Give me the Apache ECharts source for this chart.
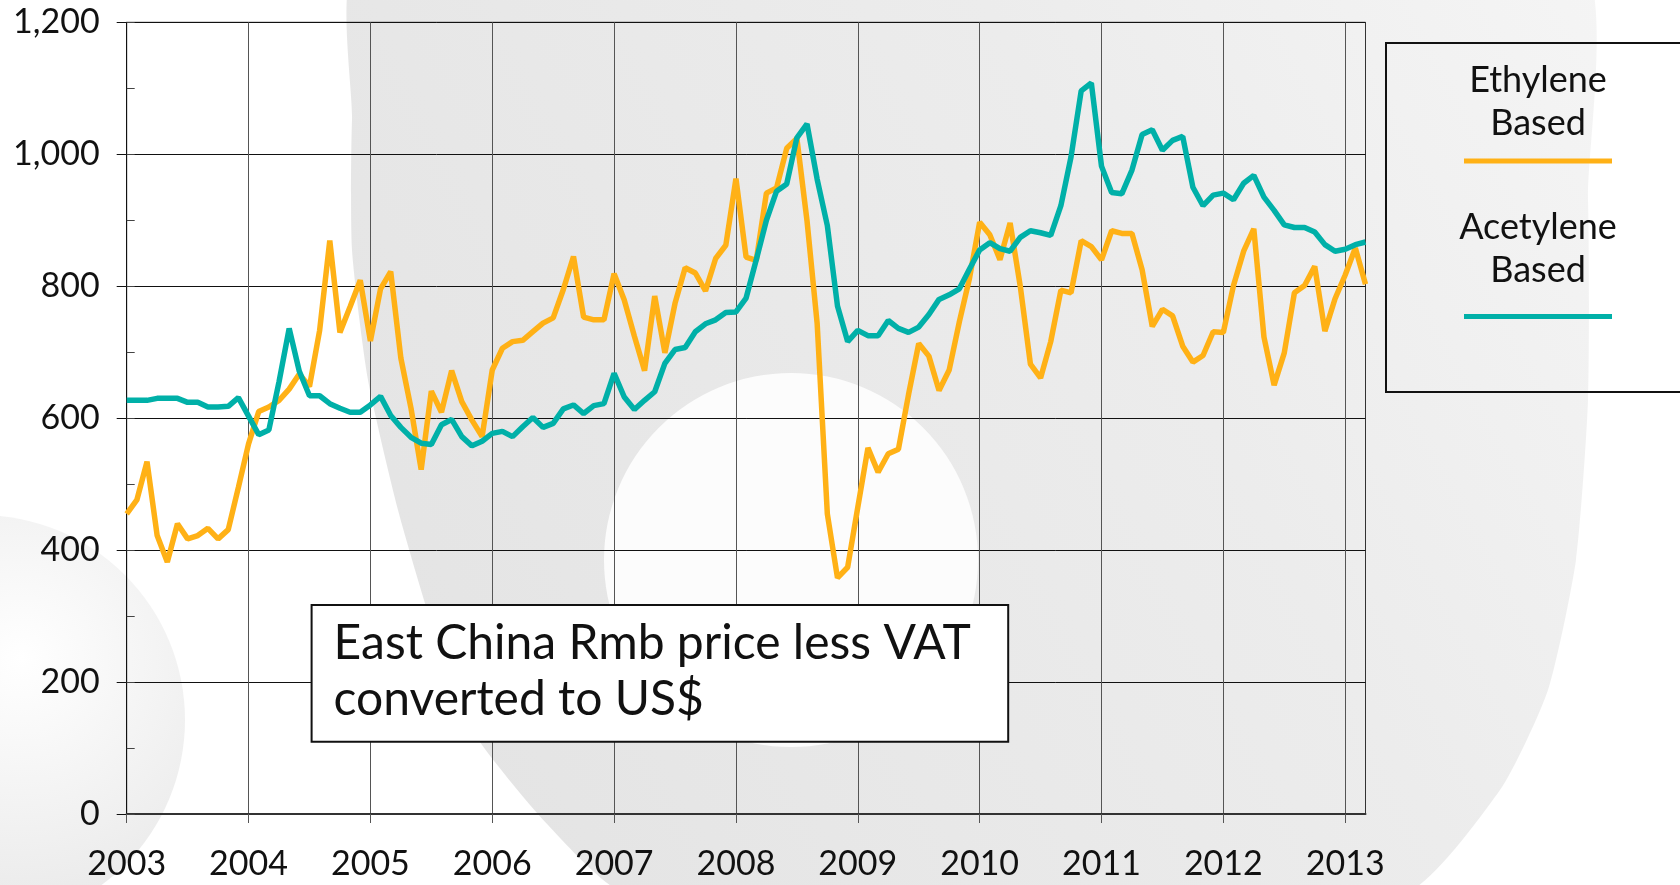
<!DOCTYPE html>
<html>
<head>
<meta charset="utf-8">
<script src="https://cdn.jsdelivr.net/npm/echarts@6/dist/echarts.min.js"></script>
<style>
  html, body { margin: 0; padding: 0; background: #fff; }
  #chart { width: 1680px; height: 885px; }
</style>
</head>
<body>
<div id="chart"></div>
<script>
// monthly values, Jan 2003 .. Mar 2013 (US$/t)
var ethylene = [455,476,534,422,382,440,417,422,433,417,
  431,495,561,610,617,627,644,667,648,733,
  869,730,769,809,717,796,822,691,615,522,
  641,609,672,625,597,572,673,706,716,718,
  731,744,752,795,845,753,749,749,819,779,
  724,672,785,699,774,828,820,793,842,862,
  963,844,839,941,949,1009,1024,899,743,455,
  358,374,465,555,518,546,553,636,713,694,
  642,673,746,812,897,878,840,896,800,682,
  661,716,794,790,869,860,840,884,880,880,
  825,739,765,755,709,685,695,731,730,801,
  853,887,723,650,699,790,801,830,732,781,
  817,858,803];

var acetylene = [627,627,627,630,630,630,624,624,617,617,
  618,631,603,575,582,655,736,671,634,634,
  622,615,609,609,620,633,604,586,571,562,
  560,590,598,572,558,565,577,580,572,587,
  601,586,592,614,620,607,619,622,668,632,
  613,627,640,683,704,707,731,743,749,760,
  761,782,840,900,944,955,1025,1046,962,892,
  770,716,733,725,725,748,736,730,738,757,
  780,787,796,826,855,866,857,853,874,884,
  881,877,922,996,1096,1108,982,942,940,976,
  1030,1037,1006,1021,1027,950,922,938,941,931,
  956,968,935,915,893,889,889,882,863,853,
  856,863,867];

var yearLabels = ['2003','2004','2005','2006','2007','2008','2009','2010','2011','2012','2013'];
var seriesNames = ['Ethylene Based', 'Acetylene Based'];
var colors = ['#FFB116', '#00B0A8'];

var months = [];
for (var i = 0; i < ethylene.length; i++) {
  var yr = 2003 + Math.floor(i / 12);
  var mo = (i % 12) + 1;
  months.push(yr + '-' + (mo < 10 ? '0' + mo : mo));
}

function isYearStart(index) { return index % 12 === 0; }

var FONT = 'Lato';
var chart = echarts.init(document.getElementById('chart'));

// faint logo watermark behind the plot
var watermark = [
  {
    type: 'polygon', z: -10, silent: true,
    shape: {
      smooth: 0.2,
      points: [[362,-40],[352,120],[352,250],[368,380],[398,510],[432,625],[472,730],[548,825],[630,895],
               [1400,895],[1500,790],[1548,690],[1576,560],[1588,400],[1588,200],[1575,-40]]
    },
    style: {
      fill: new echarts.graphic.LinearGradient(0, 0.7, 1, 0, [
        { offset: 0, color: '#e4e4e4' },
        { offset: 0.6, color: '#ececec' },
        { offset: 1, color: '#f5f5f5' }
      ])
    }
  },
  {
    type: 'circle', z: -9, silent: true,
    shape: { cx: 791, cy: 560, r: 187 },
    style: { fill: '#fcfcfc' }
  },
  {
    type: 'circle', z: -9, silent: true,
    shape: { cx: -20, cy: 720, r: 205 },
    style: {
      fill: new echarts.graphic.RadialGradient(0.6, 0.35, 0.8, [
        { offset: 0, color: '#ffffff' },
        { offset: 1, color: '#e4e4e4' }
      ])
    }
  }
];

var option = {
  backgroundColor: '#fff',
  animation: false,
  grid: {
    left: 126.7, right: 314.5, top: 22.3, bottom: 71,
    show: true, borderColor: '#333', borderWidth: 1
  },
  xAxis: {
    type: 'category',
    boundaryGap: false,
    data: months,
    axisLine: { lineStyle: { color: '#333', width: 2 } },
    axisTick: { interval: isYearStart, length: 9, lineStyle: { color: '#555' } },
    axisLabel: {
      interval: isYearStart,
      margin: 33,
      fontFamily: FONT, fontSize: 34, color: '#111',
      formatter: function (v, idx) { return yearLabels[Math.floor(idx / 12)]; }
    },
    splitLine: { show: true, interval: isYearStart, lineStyle: { color: '#555', width: 1 } }
  },
  yAxis: [
    {
      type: 'value', min: 0, max: 1200, interval: 200,
      axisLine: { show: true, lineStyle: { color: '#111', width: 1 } },
      axisTick: { show: true, length: 10, lineStyle: { color: '#111' } },
      axisLabel: {
        margin: 27, fontFamily: FONT, fontSize: 34, color: '#111',
        formatter: function (v) { return v.toLocaleString('en-US'); }
      },
      splitLine: { show: true, lineStyle: { color: '#111', width: 1 } }
    },
    {
      type: 'value', min: 0, max: 1200, interval: 100, position: 'left',
      axisLine: { show: false },
      axisTick: { show: true, inside: true, length: 8, lineStyle: { color: '#444' } },
      axisLabel: { show: false },
      splitLine: { show: false }
    }
  ],
  legend: {
    orient: 'vertical',
    left: 1386, top: 43,
    padding: [19, 80, 73, 47],
    itemGap: 46,
    itemWidth: 0,
    icon: 'none',
    selectedMode: false,
    borderColor: '#111', borderWidth: 2,
    data: seriesNames,
    formatter: function (name) {
      var p = name.split(' ');
      var key = name === seriesNames[0] ? 'l1' : 'l2';
      return '{t|' + p[0] + '}\n{t|' + p[1] + '}\n{' + key + '|\u00a0}';
    },
    textStyle: {
      rich: {
        t: { fontFamily: FONT, fontSize: 36, lineHeight: 43, width: 200, align: 'center', color: '#111' },
        l1: { width: 148, height: 5, lineHeight: 33, fontSize: 2, align: 'center', backgroundColor: colors[0] },
        l2: { width: 148, height: 5, lineHeight: 49, fontSize: 2, align: 'center', backgroundColor: colors[1] }
      }
    }
  },
  graphic: watermark.concat([
    {
      type: 'group', z: 100,
      children: [
        {
          type: 'rect', z: 100,
          shape: { x: 311.6, y: 605, width: 696.6, height: 136.7 },
          style: { fill: '#fff', stroke: '#111', lineWidth: 2 }
        },
        {
          type: 'text', z: 101,
          x: 333.6, y: 615.5,
          style: {
            text: 'East China Rmb price less VAT\nconverted to US$',
            font: '48px Lato', lineHeight: 56, fill: '#111',
            verticalAlign: 'top', align: 'left'
          }
        }
      ]
    }
  ]),
  series: [
    {
      name: seriesNames[0], type: 'line', data: ethylene,
      showSymbol: false, color: colors[0],
      lineStyle: { width: 5.5, color: colors[0] }, z: 3
    },
    {
      name: seriesNames[1], type: 'line', data: acetylene,
      showSymbol: false, color: colors[1],
      lineStyle: { width: 5.5, color: colors[1] }, z: 4
    }
  ]
};

chart.setOption(option);
window.addEventListener('resize', function () { chart.resize(); });
</script>
</body>
</html>
